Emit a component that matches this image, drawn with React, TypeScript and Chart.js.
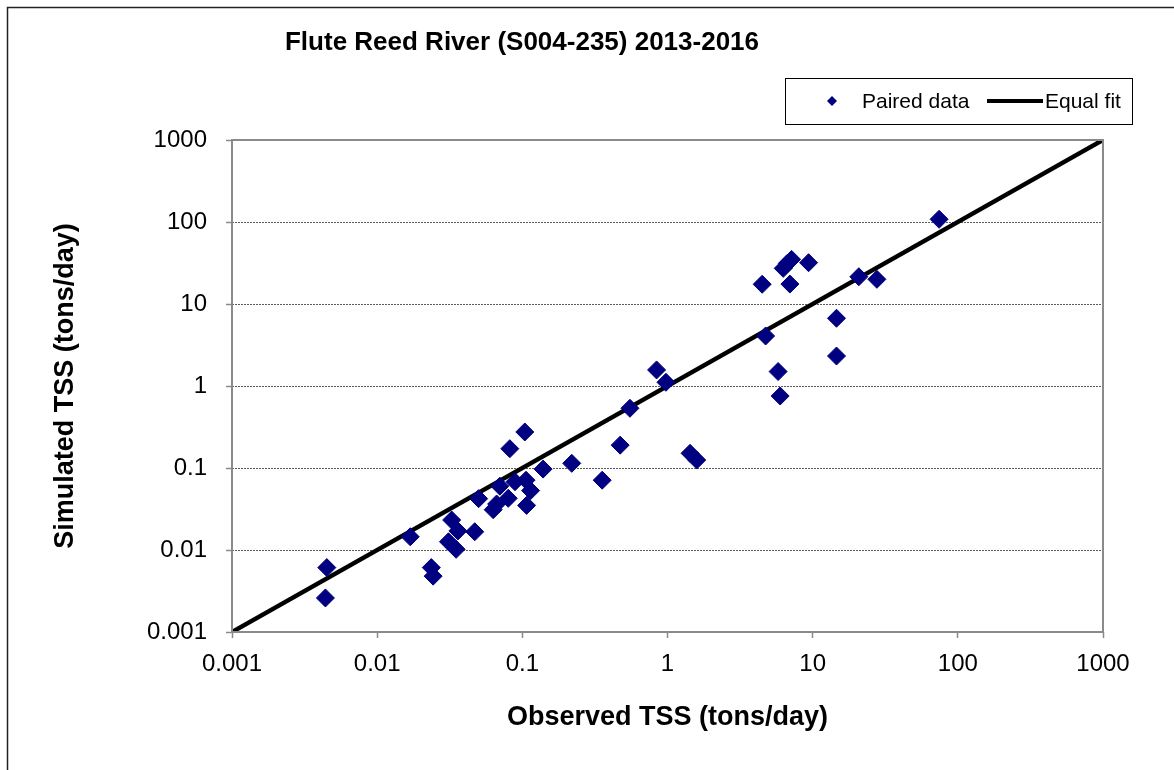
import React, { useEffect, useRef } from "react";
import { Chart, registerables } from "chart.js";

Chart.register(...registerables);

const TITLE = "Flute Reed River (S004-235) 2013-2016";
const X_TITLE = "Observed TSS (tons/day)";
const Y_TITLE = "Simulated TSS (tons/day)";
const SERIES_PAIRED = "Paired data";
const SERIES_FIT = "Equal fit";

const observedTSS = [
  0.0045, 0.0044, 0.0169, 0.0236, 0.0243, 0.031, 0.035, 0.0326, 0.036, 0.047,
  0.05, 0.063, 0.0665, 0.07, 0.08, 0.082, 0.089, 0.104, 0.106, 0.114,
  0.107, 0.139, 0.219, 0.355, 0.472, 0.551, 0.841, 0.976, 1.43, 1.59,
  4.74, 5.78, 5.97, 14.6, 14.6, 4.49, 6.27, 7.16, 6.69, 6.97,
  9.37, 20.8, 27.7, 74.3,
];
const simulatedTSS = [
  0.0061, 0.0026, 0.0145, 0.0061, 0.0048, 0.0126, 0.0102, 0.0232, 0.0171, 0.0167,
  0.0423, 0.031, 0.0364, 0.06, 0.0427, 0.172, 0.068, 0.275, 0.071, 0.053,
  0.035, 0.097, 0.114, 0.071, 0.19, 0.535, 1.57, 1.11, 0.151, 0.125,
  4.07, 1.5, 0.755, 2.32, 6.7, 17.4, 27.2, 35.0, 31.3, 17.5,
  31.9, 21.5, 20.0, 108,
];
const equalFitX = [0.001, 1000];
const equalFitY = [0.001, 1000];
const tickValues = [0.001, 0.01, 0.1, 1, 10, 100, 1000];
const tickLabels = ["0.001", "0.01", "0.1", "1", "10", "100", "1000"];

const FONT = "'Liberation Sans', Arial, Helvetica, sans-serif";
const NAVY = "#000080";
const AXIS_GRAY = "#8a8a8a";

const decorPlugin = {
  id: "decor",
  beforeDraw(chart: any) {
    const { ctx, width, height } = chart;
    ctx.save();
    ctx.fillStyle = "#ffffff";
    ctx.fillRect(0, 0, width, height);
    ctx.strokeStyle = "#222222";
    ctx.lineWidth = 1.5;
    ctx.beginPath();
    ctx.moveTo(7.5, height);
    ctx.lineTo(7.5, 7.5);
    ctx.lineTo(width, 7.5);
    ctx.stroke();
    ctx.restore();
  },
  afterDraw(chart: any) {
    const { ctx, chartArea: a } = chart;
    ctx.save();
    // plot frame
    ctx.strokeStyle = AXIS_GRAY;
    ctx.lineWidth = 2;
    ctx.strokeRect(a.left, a.top, a.right - a.left, a.bottom - a.top);

    // title
    ctx.fillStyle = "#000";
    ctx.font = `bold 26px ${FONT}`;
    ctx.textAlign = "center";
    ctx.textBaseline = "alphabetic";
    ctx.fillText(TITLE, 522, 50);

    // x axis title
    ctx.font = `bold 27px ${FONT}`;
    ctx.textBaseline = "middle";
    ctx.fillText(X_TITLE, (a.left + a.right) / 2, 718);

    // y axis title
    ctx.save();
    ctx.translate(66, (a.top + a.bottom) / 2);
    ctx.rotate(-Math.PI / 2);
    ctx.fillText(Y_TITLE, 0, 0);
    ctx.restore();

    // legend
    ctx.strokeStyle = "#000";
    ctx.lineWidth = 1;
    ctx.strokeRect(785.5, 78.5, 347, 46);
    const ly = 101;
    ctx.fillStyle = NAVY;
    ctx.beginPath();
    ctx.moveTo(832, ly - 5);
    ctx.lineTo(837, ly);
    ctx.lineTo(832, ly + 5);
    ctx.lineTo(827, ly);
    ctx.closePath();
    ctx.fill();
    ctx.fillStyle = "#000";
    ctx.font = `21px ${FONT}`;
    ctx.textAlign = "left";
    ctx.textBaseline = "middle";
    ctx.fillText(SERIES_PAIRED, 862, ly + 1);
    ctx.strokeStyle = "#000";
    ctx.lineWidth = 4;
    ctx.beginPath();
    ctx.moveTo(987, ly);
    ctx.lineTo(1043, ly);
    ctx.stroke();
    ctx.fillText(SERIES_FIT, 1045, ly + 1);
    ctx.restore();
  },
};

export default function App() {
  const ref = useRef<HTMLCanvasElement | null>(null);

  useEffect(() => {
    if (!ref.current) return;
    document.body.style.margin = "0";
    const paired = observedTSS.map((x, i) => ({ x, y: simulatedTSS[i] }));
    const fit = equalFitX.map((x, i) => ({ x, y: equalFitY[i] }));

    const chart = new Chart(ref.current, {
      type: "scatter",
      data: {
        datasets: [
          {
            label: SERIES_PAIRED,
            data: paired,
            pointStyle: "rectRot",
            pointRadius: 9,
            pointHoverRadius: 9,
            backgroundColor: NAVY,
            borderColor: NAVY,
            borderWidth: 1,
            showLine: false,
          },
          {
            label: SERIES_FIT,
            type: "line",
            data: fit,
            borderColor: "#000",
            borderWidth: 4.5,
            pointRadius: 0,
            fill: false,
            tension: 0,
          } as any,
        ],
      },
      options: {
        animation: false,
        responsive: false,
        maintainAspectRatio: false,
        events: [],
        layout: { padding: { left: 0, top: 140, right: 71, bottom: 0 } },
        plugins: {
          legend: { display: false },
          title: { display: false },
          tooltip: { enabled: false },
        },
        scales: {
          x: {
            type: "logarithmic",
            min: 0.001,
            max: 1000,
            afterBuildTicks: (s: any) => {
              s.ticks = tickValues.map((v) => ({ value: v }));
            },
            afterFit: (s: any) => {
              s.height = 138;
            },
            ticks: {
              autoSkip: false,
              maxRotation: 0,
              padding: 12,
              color: "#000",
              font: { family: FONT, size: 24 },
              callback: (_v: any, i: number) => tickLabels[i],
            },
            grid: {
              drawOnChartArea: false,
              drawTicks: true,
              tickLength: 6,
              tickColor: AXIS_GRAY,
              tickWidth: 1.5,
            },
            border: { display: false },
          },
          y: {
            type: "logarithmic",
            min: 0.001,
            max: 1000,
            afterBuildTicks: (s: any) => {
              s.ticks = tickValues.map((v) => ({ value: v }));
            },
            afterFit: (s: any) => {
              s.width = 232;
            },
            ticks: {
              autoSkip: false,
              padding: 19,
              color: "#000",
              font: { family: FONT, size: 24 },
              callback: (_v: any, i: number) => tickLabels[i],
            },
            grid: {
              drawOnChartArea: true,
              drawTicks: true,
              tickLength: 6,
              color: "#5a5a5a",
              lineWidth: 1,
              tickColor: AXIS_GRAY,
              tickWidth: 1.5,
              tickBorderDash: [],
            },
            border: { display: false, dash: [2, 1] },
          },
        },
      },
      plugins: [decorPlugin],
    });
    return () => chart.destroy();
  }, []);

  return (
    <div style={{ position: "absolute", left: 0, top: 0, width: 1174, height: 770, background: "#fff" }}>
      <canvas ref={ref} width={1174} height={770} style={{ display: "block", width: 1174, height: 770 }} />
    </div>
  );
}
